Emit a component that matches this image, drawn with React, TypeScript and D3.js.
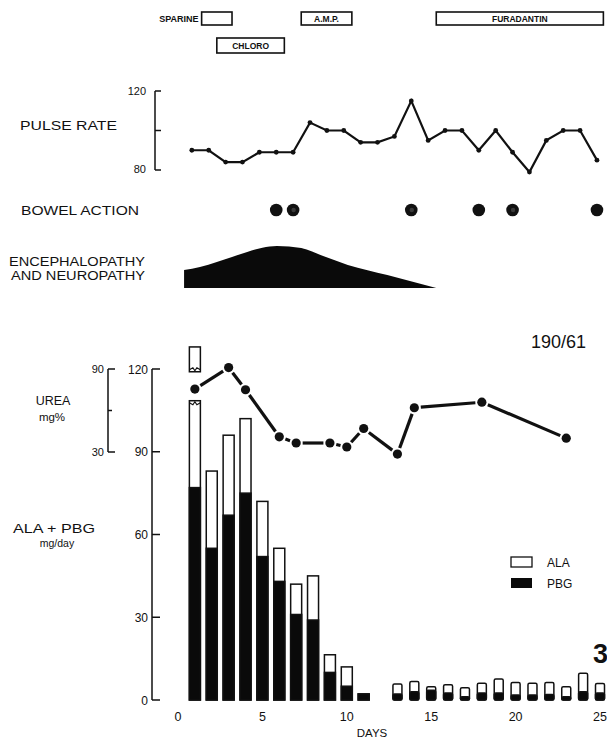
import React, { useMemo } from "react";
import * as d3 from "d3";

// porphyria case 190/61 — daily chart

const W = 607;
const H = 739;
const FONT = "'Liberation Sans', Arial, sans-serif";

// treatment periods (start day, end day)
const drugNames = ["SPARINE", "CHLORO", "A.M.P.", "FURADANTIN"];
const drugStart = [1.4, 2.3, 7.3, 15.3];
const drugEnd = [3.2, 6.3, 10.3, 25.2];
const drugRow = [0, 1, 0, 0];

// pulse rate, one reading per day
const pulseDays = [1, 2, 3, 4, 5, 6, 7, 8, 9, 10, 11, 12, 13, 14, 15, 16, 17, 18, 19, 20, 21, 22, 23, 24, 25];
const pulseValues = [90, 90, 84, 84, 89, 89, 89, 104, 100, 100, 94, 94, 97, 115, 95, 100, 100, 90, 100, 89, 79, 95, 100, 100, 85];
const pulseTicks = [80, 100, 120];

// bowel action days
const bowelDays = [6, 7, 14, 18, 20, 25];
const bowelPale = [false, true, true, false, true, false];

// encephalopathy / neuropathy severity (arbitrary units)
const encDays = [0.36, 1.3, 2.3, 3.2, 4.1, 5.0, 5.86, 7.3, 8.6, 10.06, 12.4, 15.3];
const encLevel = [4.3, 5.0, 6.2, 7.4, 8.6, 9.6, 10, 9.5, 7.6, 5.5, 3.1, 0];

// blood urea mg%
const ureaDays = [1, 3, 4, 6, 7, 9, 10, 11, 13, 14, 18, 23];
const ureaValues = [75.5, 91, 75, 41, 36.5, 36.5, 33.6, 47, 28.5, 62, 66, 40];
const ureaTicks = [30, 60, 90];

// urinary ALA + PBG mg/day
const barDays = [1, 2, 3, 4, 5, 6, 7, 8, 9, 10, 11, 13, 14, 15, 16, 17, 18, 19, 20, 21, 22, 23, 24, 25];
const pbgValues = [77, 55, 67, 75, 52, 43, 31, 29, 10, 5, 2.2, 2.2, 3, 3.5, 2.5, 1.2, 2.5, 2.5, 1.8, 1.8, 2, 1.2, 3, 2.5];
const alaValues = [51, 28, 29, 27, 20, 12, 11, 16, 6.4, 7, 0, 3.6, 3.7, 1.3, 3, 3.2, 3.6, 5.1, 4.5, 4.3, 4.3, 3.6, 6.7, 3.5];
const barTicks = [0, 30, 60, 90, 120];
const dayTicks = [0, 5, 10, 15, 20, 25];

const DAY_SHIFT = -0.18; // pulse and bowel entries sit a little before the day mark
const BREAK_LO = 108.5;
const BREAK_HI = 119;

export default function App() {
  const x = useMemo(() => d3.scaleLinear().domain([0, 25]).range([178, 600]), []);
  const yPulse = useMemo(() => d3.scaleLinear().domain([80, 120]).range([170, 91]), []);
  const yEnc = useMemo(() => d3.scaleLinear().domain([0, 10]).range([288, 246]), []);
  const yUrea = useMemo(() => d3.scaleLinear().domain([30, 90]).range([452, 369]), []);
  const yBar = useMemo(() => d3.scaleLinear().domain([0, 120]).range([700, 369]), []);

  const pulsePath = useMemo(() => {
    const line = d3
      .line<number>()
      .x((_, i) => x(pulseDays[i] + DAY_SHIFT))
      .y((d) => yPulse(d));
    return line(pulseValues) || "";
  }, [x, yPulse]);

  const encPath = useMemo(() => {
    const area = d3
      .area<number>()
      .x((_, i) => x(encDays[i]))
      .y0(yEnc(0))
      .y1((d) => yEnc(d))
      .curve(d3.curveMonotoneX);
    return area(encLevel) || "";
  }, [x, yEnc]);

  // urea segments stop short of the dots
  const ureaPts = ureaDays.map((d, i) => [x(d), yUrea(ureaValues[i])]);
  const ureaSegs = ureaPts.slice(1).map((p, i) => {
    const q = ureaPts[i];
    const dx = p[0] - q[0];
    const dy = p[1] - q[1];
    const len = Math.sqrt(dx * dx + dy * dy);
    const g = 6.5 / len;
    return { x1: q[0] + dx * g, y1: q[1] + dy * g, x2: p[0] - dx * g, y2: p[1] - dy * g };
  });

  return (
    <svg
      width={W}
      height={H}
      style={{ position: "absolute", left: 0, top: 0, background: "#fff" }}
      fontFamily={FONT}
    >
      {/* drugs */}
      {drugNames.map((name, i) => {
        const top = drugRow[i] === 0 ? 12 : 38;
        const x0 = x(drugStart[i]);
        const x1 = x(drugEnd[i]);
        return (
          <g key={name}>
            <rect x={x0} y={top} width={x1 - x0} height={drugRow[i] === 0 ? 13 : 15} fill="#fff" stroke="#111" strokeWidth={1.6} />
            {name === "SPARINE" ? (
              <text x={x0 - 3} y={top + 9.5} fontSize={9} fontWeight="bold" textAnchor="end" fill="#111">
                {name}
              </text>
            ) : (
              <text x={(x0 + x1) / 2} y={top + (drugRow[i] === 0 ? 10 : 11)} fontSize={8.5} fontWeight="bold" textAnchor="middle" fill="#111">
                {name}
              </text>
            )}
          </g>
        );
      })}

      {/* pulse */}
      <text x={20} y={130} fontSize={13} textLength={97} lengthAdjust="spacingAndGlyphs" fill="#111">PULSE RATE</text>
      <line x1={155} x2={155} y1={yPulse(120)} y2={yPulse(80)} stroke="#111" strokeWidth={1.5} />
      {pulseTicks.map((t) => (
        <line key={t} x1={155} x2={161} y1={yPulse(t)} y2={yPulse(t)} stroke="#111" strokeWidth={1.5} />
      ))}
      <text x={146} y={yPulse(120) + 4} fontSize={11} textAnchor="end" fill="#111">120</text>
      <text x={146} y={yPulse(80) + 3} fontSize={11} textAnchor="end" fill="#111">80</text>
      <path d={pulsePath} fill="none" stroke="#111" strokeWidth={2.2} />
      {pulseValues.map((v, i) => (
        <circle key={i} cx={x(pulseDays[i] + DAY_SHIFT)} cy={yPulse(v)} r={2.4} fill="#111" />
      ))}

      {/* bowel action */}
      <text x={21} y={215} fontSize={13} textLength={118} lengthAdjust="spacingAndGlyphs" fill="#111">BOWEL ACTION</text>
      {bowelDays.map((d, i) => (
        <g key={d}>
          <circle cx={x(d + DAY_SHIFT)} cy={210} r={6.3} fill="#111" />
          {bowelPale[i] && <circle cx={x(d + DAY_SHIFT) + 0.5} cy={210} r={2.2} fill="#3a3a3a" />}
        </g>
      ))}

      {/* encephalopathy */}
      <text x={145} y={266} fontSize={12} textAnchor="end" textLength={136} lengthAdjust="spacingAndGlyphs" fill="#111">ENCEPHALOPATHY</text>
      <text x={145} y={280} fontSize={12} textAnchor="end" textLength={134} lengthAdjust="spacingAndGlyphs" fill="#111">AND NEUROPATHY</text>
      <path d={encPath} fill="#0a0a0a" />

      {/* case number */}
      <text x={531} y={348} fontSize={19} textLength={55} lengthAdjust="spacingAndGlyphs" fill="#111">190/61</text>

      {/* urea axis */}
      <text x={53} y={405} fontSize={12.5} textAnchor="middle" fill="#111">UREA</text>
      <text x={52} y={421} fontSize={11.5} textAnchor="middle" fill="#111">mg%</text>
      <line x1={108} x2={108} y1={yUrea(90)} y2={yUrea(30)} stroke="#111" strokeWidth={1.5} />
      {ureaTicks.map((t) => (
        <line key={t} x1={108} x2={t === 60 ? 112 : 115} y1={yUrea(t)} y2={yUrea(t)} stroke="#111" strokeWidth={1.5} />
      ))}
      {[90, 30].map((t) => (
        <text key={t} x={104} y={yUrea(t) + 4} fontSize={11} textAnchor="end" fill="#111">{t}</text>
      ))}

      {/* ALA + PBG axis */}
      <text x={54} y={533} fontSize={12.5} textAnchor="middle" textLength={82} lengthAdjust="spacingAndGlyphs" fill="#111">ALA + PBG</text>
      <text x={57} y={547} fontSize={10.5} textAnchor="middle" fill="#111">mg/day</text>
      <line x1={152} x2={152} y1={yBar(120)} y2={yBar(0)} stroke="#111" strokeWidth={1.5} />
      {barTicks.map((t) => (
        <g key={t}>
          <line x1={152} x2={160} y1={yBar(t)} y2={yBar(t)} stroke="#111" strokeWidth={1.5} />
          <text x={148} y={yBar(t) + 4.5} fontSize={12} textAnchor="end" fill="#111">{t}</text>
        </g>
      ))}

      {/* bars */}
      {barDays.map((d, i) => {
        const w = d <= 11 ? 11 : 9;
        const cx = x(d);
        const x0 = cx - w / 2;
        const total = pbgValues[i] + alaValues[i];
        const broken = total > 120;
        const topLower = broken ? BREAK_LO : total;
        return (
          <g key={d}>
            <rect x={x0} y={yBar(topLower)} width={w} height={yBar(0) - yBar(topLower)} fill="#fff" stroke="#111" strokeWidth={1.5} rx={d > 11 ? 1.5 : 0} />
            <rect x={x0} y={yBar(pbgValues[i])} width={w} height={yBar(0) - yBar(pbgValues[i])} fill="#0a0a0a" stroke="#111" strokeWidth={1.5} rx={d > 11 ? 1.5 : 0} />
            {broken && (
              <>
                <rect x={x0} y={yBar(total)} width={w} height={yBar(BREAK_HI) - yBar(total)} fill="#fff" stroke="#111" strokeWidth={1.5} />
                <polyline
                  points={`${x0},${yBar(BREAK_HI) - 2} ${cx - 2},${yBar(BREAK_HI) - 4} ${cx},${yBar(BREAK_HI) - 1} ${cx + 2},${yBar(BREAK_HI) - 4} ${x0 + w},${yBar(BREAK_HI) - 2}`}
                  fill="none"
                  stroke="#111"
                  strokeWidth={1.2}
                />
                <polyline
                  points={`${x0},${yBar(BREAK_LO) + 2} ${cx - 2},${yBar(BREAK_LO) + 4} ${cx},${yBar(BREAK_LO) + 1} ${cx + 2},${yBar(BREAK_LO) + 4} ${x0 + w},${yBar(BREAK_LO) + 2}`}
                  fill="none"
                  stroke="#111"
                  strokeWidth={1.2}
                />
              </>
            )}
          </g>
        );
      })}

      {/* urea line */}
      {ureaSegs.map((s, i) => (
        <line key={i} x1={s.x1} y1={s.y1} x2={s.x2} y2={s.y2} stroke="#111" strokeWidth={3.2} />
      ))}
      {ureaPts.map((p, i) => (
        <circle key={i} cx={p[0]} cy={p[1]} r={4.6} fill="#111" />
      ))}

      {/* legend */}
      <rect x={511} y={557} width={21} height={10} fill="#fff" stroke="#111" strokeWidth={1.3} />
      <rect x={511} y={578} width={21} height={10} fill="#0a0a0a" />
      <text x={547} y={567} fontSize={12} fill="#111">ALA</text>
      <text x={547} y={588} fontSize={12} fill="#111">PBG</text>

      {/* x axis labels */}
      {dayTicks.map((t) => (
        <text key={t} x={x(t)} y={721} fontSize={12.5} textAnchor="middle" fill="#111">{t}</text>
      ))}
      <text x={372} y={737} fontSize={11.5} textAnchor="middle" fill="#111">DAYS</text>

      {/* figure number */}
      <text x={593} y={663} fontSize={27} fontWeight="bold" fill="#111">3</text>
    </svg>
  );
}
